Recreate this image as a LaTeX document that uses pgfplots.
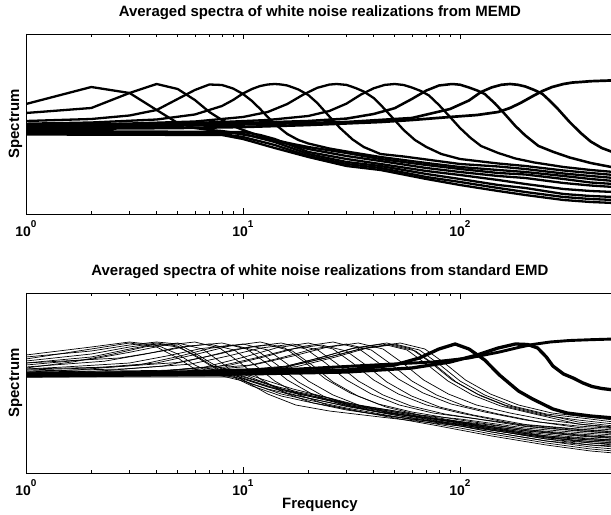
\documentclass[border=0pt]{standalone}
\usepackage{pgfplots}
\pgfplotsset{compat=1.18}
\usepackage{fontspec}
\setmainfont{Liberation Sans}
\newcommand{\sups}[1]{\raisebox{9.5bp}{\fontsize{10}{10}\selectfont #1}}
\pgfplotsset{
  panel/.style={
    scale only axis, width=587.9bp, height=180bp,
    xmin=1, xmax=512, ymin=0, ymax=180,
    ytick=\empty, xtick={1,10,100},
    xticklabels={10\sups{0},10\sups{1},10\sups{2}},
    axis line style={line width=0.9bp},
    major tick length=5.5bp, minor tick length=3bp,
    tick style={black, line width=0.7bp},
    xticklabel style={font=\bfseries\fontsize{14}{14}\selectfont, anchor=base, yshift=-22.7bp},
    title style={font=\bfseries\fontsize{15}{15}\selectfont, at={(0.5,1)}, anchor=base, yshift=11.5bp},
    ylabel={Spectrum},
    every axis y label/.style={at={(axis description cs:-0.0119,0.5)}, rotate=90, anchor=base, font=\bfseries\fontsize{15}{15}\selectfont},
  },
  thk/.style={black, line width=2.3bp, line join=round},
  bthk/.style={black, line width=3.3bp, line join=round},
  thn/.style={black, line width=0.7bp, line join=round},
}
\begin{document}
\begin{tikzpicture}
\useasboundingbox (0bp,0bp) rectangle (611bp,515bp);
% ---------------- top panel: MEMD ----------------
\begin{semilogxaxis}[panel, at={(26bp,301bp)}, anchor=south west,
  title={Averaged spectra of white noise realizations from MEMD}]
% IMF1 (high-pass)
\addplot[thk, line width=2.7bp] coordinates {(1,85)(5,86)(10,87)(20,89)(43,92)(60,94)(90,97)(120,99)(150,102)(170,106)(190,111)(217,118)(240,123)(266,127)(300,130)(331,131.5)(360,132)(400,132.8)(450,133.2)(512,133.6)};
% band-pass IMFs
\addplot[thk, line width=2.6bp] coordinates {(1,86)(10,89.5)(30,92)(60,96)(90,105)(110,113.5)(125,122)(140,126.6)(155,129.2)(170,130)(185,129.2)(200,127.5)(220,124)(240,120)(260,113)(280,106)(320,92)(360,81)(400,72.5)(450,66)(512,61.5)};
\addplot[thk, line width=2.5bp] coordinates {(1,87)(5,89.5)(10,91)(20,93)(30,95.4)(40,100)(50,105.8)(60,115)(70,123.5)(80,128.5)(92,130)(100,129.3)(110,126.5)(120,123.5)(130,120)(145,110.5)(160,100.5)(180,88)(200,78.5)(230,68)(270,62)(320,56.5)(400,51)(512,46.5)};
\addplot[thk] coordinates {(1,88)(4,90)(8,92)(13,94)(20,98)(25,103)(30,110.4)(35,119.5)(40,125.7)(45,129.1)(50,130)(55,129)(60,126.5)(66,123)(72,118.5)(80,109)(90,97)(100,86)(112,76)(125,68)(150,61)(180,55.5)(220,51.5)(300,47)(400,44)(512,42)};
\addplot[thk] coordinates {(1,89)(3,90.5)(6,92.5)(10,97)(13,102)(16,110)(19,119.5)(22,126.2)(25,129.4)(27,130)(30,129.1)(33,126)(36,122.5)(40,116)(44,107)(49,96)(55,84)(62,74)(70,67)(82,60)(100,55)(150,50.5)(200,48)(300,43.5)(400,41)(512,39)};
\addplot[thk] coordinates {(1,90.3)(2,91.5)(4,94.5)(6,99.5)(8,108)(9,114)(10,120.5)(11,125)(12,128)(13,129.5)(14,130)(15,129.5)(16,128.5)(17,126.5)(18,124.5)(20,119)(22,111)(25,97.5)(28,86)(32,74.5)(36,67)(43,60)(55,57.5)(70,54.5)(100,50)(150,47.5)(200,45)(300,40.5)(400,38)(512,36)};
\addplot[thk] coordinates {(1,93)(2,95)(3,98.5)(4,104)(5,115)(6,124)(7,129.5)(8,129)(9,125.5)(10,120)(11,113)(12,105)(13,97)(14,90)(16,80)(18,74)(20,70.5)(25,65.5)(30,62.5)(43,57)(70,51)(100,47)(150,44)(200,42)(300,38)(400,35)(512,33)};
\addplot[thk] coordinates {(1,101)(2,106)(3,121)(4,130)(5,125)(6,114)(7,102)(8,94)(9,88)(10,84)(12,78)(14,74)(17,70)(20,67)(30,61)(43,55)(70,49)(100,45)(150,41)(200,39.5)(300,35)(400,31.5)(512,30)};
\addplot[thk] coordinates {(1,110)(2,127)(3,121)(4,104)(5,91)(6,86)(7,84)(8,83)(10,80)(12,76)(14,73)(17,69)(20,65)(30,58)(43,53)(70,46)(100,42)(150,38)(200,36)(300,31)(400,28.5)(512,27)};
% residual-type lines
\addplot[thk] coordinates {(1,83)(10,82)(12,79)(14,75)(20,62)(30,55)(43,50)(70,43)(100,39)(150,34)(200,30)(300,25)(400,23)(512,22)};
\addplot[thk] coordinates {(1,81.5)(9,81)(11,78)(14,72)(20,60)(30,52)(43,48)(70,40)(100,35)(150,29)(200,26)(300,20)(400,18)(512,17)};
\addplot[thk] coordinates {(1,80.5)(8,80)(10,77)(14,69)(20,58)(30,50)(43,46)(70,37)(100,32)(150,26)(200,22)(300,17)(400,15)(512,14)};
\addplot[thk] coordinates {(1,79.5)(8,79)(10,75)(14,66)(20,57)(30,48)(43,44)(70,35)(100,29)(150,23)(200,19)(300,14)(400,12)(512,11)};
\end{semilogxaxis}
% ---------------- bottom panel: standard EMD ----------------
\begin{semilogxaxis}[panel, at={(26bp,42bp)}, anchor=south west,
  title={Averaged spectra of white noise realizations from standard EMD},
  xlabel={Frequency},
  every axis x label/.style={at={(axis description cs:0.5,0)}, anchor=base, yshift=-35.5bp, font=\bfseries\fontsize{15}{15}\selectfont}]
\addplot[bthk, line width=2.9bp] coordinates {(1,98)(5,101)(10,103)(18,104)(40,108)(75,111)(110,115)(152,121)(190,126)(216,128.5)(260,131)(320,132.5)(400,133.3)(512,134)};
\addplot[bthk] coordinates {(1,97)(10,99)(30,101)(60,105)(90,111)(120,118)(150,125)(180,129)(205,128.5)(228,125)(250,116)(268,107)(300,99)(332,95)(369,90)(406,86.5)(450,84.5)(512,83)};
\addplot[bthk] coordinates {(1,99)(10,100)(30,103)(50,108)(65,115)(80,124)(95,129)(110,124)(130,113)(152,98)(186,82)(216,74)(268,64)(311,60)(400,57)(512,55)};
% IMF4 family
\addplot[thn] coordinates {(1,97)(7.3,99)(14.7,105)(22,114.6)(31.4,124.2)(44,129)(57,123)(70,109)(88,92)(114,78)(154,67)(220,59)(350,49)(512,45)};
\addplot[thn] coordinates {(1,98)(7.7,100)(15.3,106)(23,115.6)(32.9,125.2)(46,130)(59.8,124)(73.6,110)(92,93)(120,79)(161,68)(230,60)(350,51)(512,47)};
\addplot[thn] coordinates {(1,99)(8,101)(16,106.3)(24,115)(34.3,123.7)(48,128)(62.4,122)(76.8,108)(96,91)(125,77)(168,66)(240,58)(350,53)(512,49)};
\addplot[thn] coordinates {(1,100)(8.3,102)(16.7,107.3)(25,116)(35.7,124.7)(50,129)(65,123)(80,109)(100,92)(130,78)(175,67)(250,59)(380,54.5)(512,51)};
\addplot[thn] coordinates {(1,98.5)(8.8,100.5)(17.7,106.4)(26.5,115.8)(37.9,125.3)(53,130)(68.9,124)(84.8,110)(106,93)(138,79)(186,68)(265,60)(400,55.5)(512,53)};
% IMF5 family
\addplot[thn] coordinates {(1,98)(3.3,100)(6.7,106)(10,115.6)(14.3,125.2)(20,130)(26,124)(32,110)(40,93)(52,79)(70,68)(100,60)(200,47)(350,42.5)(512,40)};
\addplot[thn] coordinates {(1,99.5)(3.8,101.5)(7.7,106.6)(11.5,115.2)(16.4,123.7)(23,128)(29.9,122)(36.8,108)(46,91)(59.8,77)(80.5,66)(115,58)(200,48.5)(350,44)(512,41.5)};
\addplot[thn] coordinates {(1,100)(4.3,102)(8.7,107.8)(13,117)(18.6,126.4)(26,131)(33.8,125)(41.6,111)(52,94)(67.6,80)(91,69)(130,61)(200,53)(350,45.5)(512,43)};
\addplot[thn] coordinates {(1,98.5)(5,100.5)(10,106.1)(15,115.3)(21.4,124.4)(30,129)(39,123)(48,109)(60,92)(78,78)(105,67)(150,59)(230,51)(350,47)(512,44.5)};
\addplot[thn] coordinates {(1,101)(5.7,103)(11.3,108.3)(17,117)(24.3,125.7)(34,130)(44.2,124)(54.4,110)(68,93)(88.4,79)(119,68)(170,60)(250,53)(370,48.5)(512,46)};
% IMF6 family
\addplot[thn] coordinates {(1,101)(1.7,103)(3.3,108)(5,116.4)(7.1,124.8)(10,129)(13,123)(16,109)(20,92)(26,78)(35,67)(50,59)(100,51)(200,42)(350,37.5)(512,35)};
\addplot[thn] coordinates {(1,103)(2,105)(4,110)(6,118.4)(8.6,126.8)(12,131)(15.6,125)(19.2,111)(24,94)(31.2,80)(42,69)(60,61)(100,53)(200,43.5)(350,39)(512,36.5)};
\addplot[thn] coordinates {(1,100)(2.2,102)(4.3,107)(6.5,115.4)(9.3,123.8)(13,128)(16.9,122)(20.8,108)(26,91)(33.8,77)(45.5,66)(65,58)(100,54)(200,45)(350,40.5)(512,38)};
\addplot[thn] coordinates {(1,104)(2.5,106)(5,110.5)(7.5,118.3)(10.7,126.1)(15,130)(19.5,124)(24,110)(30,93)(39,79)(52.5,68)(75,60)(120,54)(200,46.5)(350,42)(512,39.5)};
\addplot[thn] coordinates {(1,102)(2.8,104)(5.7,108.8)(8.5,116.9)(12.1,125)(17,129)(22.1,123)(27.2,109)(34,92)(44.2,78)(59.5,67)(85,59)(130,53)(200,48)(350,43.5)(512,41)};
% IMF7 family
\addplot[thn] coordinates {(1,105)(1.67,111.3)(2.5,118.8)(3.57,126.3)(5,130)(6.5,124)(8,110)(10,93)(13,79)(17.5,68)(25,62)(47,55)(100,47)(200,38)(350,32.5)(512,30)};
\addplot[thn] coordinates {(1,108)(2,113.8)(3,120.7)(4.3,127.6)(6,131)(7.8,125)(9.6,111)(12,94)(15.6,80)(21,70)(30,63)(50,56)(100,48)(200,39.5)(350,34)(512,31.5)};
\addplot[thn] coordinates {(1,106)(2.3,111.8)(3.5,118.7)(5,125.6)(7,129)(9.1,123)(11.2,109)(14,92)(18.2,78)(24.5,68)(35,61)(60,54)(100,49)(200,41)(350,35.5)(512,33)};
\addplot[thn] coordinates {(1,110)(2.7,115)(4,121)(5.7,127)(8,130)(10.4,124)(12.8,110)(16,93)(20.8,79)(28,69)(40,62)(70,55)(120,48)(200,42.5)(350,37)(512,34.5)};
\addplot[thn] coordinates {(1,104)(1.5,106)(3,110)(4.5,117.2)(6.4,124.4)(9,128)(11.7,122)(14.4,108)(18,91)(23.4,77)(31.5,67)(45,60)(80,54)(150,47)(250,41)(400,37)(512,36)};
% IMF8 family
\addplot[thn] coordinates {(1,114)(2,124)(3,130)(4,126)(5,115)(6,104)(7,99)(8,97)(10,92)(13,84)(17,78)(22,73)(30,67)(47,59)(80,51)(140,41)(250,32)(400,28)(512,27)};
\addplot[thn] coordinates {(1,118)(2,126)(3,131)(4,128)(5,119)(6,108)(7,101)(8,98)(10,94)(13,86)(17,80)(22,75)(30,69)(47,61)(80,52)(140,43)(250,34)(400,30)(512,29)};
\addplot[thn] coordinates {(1,112)(2,119)(3,126)(4,130)(5,127)(6,117)(7,108)(8,101)(9,98)(11,92)(14,85)(18,80)(25,73)(35,66)(47,62)(80,53)(140,44)(250,35)(400,31.5)(512,30.5)};
\addplot[thn] coordinates {(1,116)(2,122)(3,128)(4,131)(5,129)(6,120)(7,111)(8,104)(9,100)(11,94)(14,87)(18,81)(25,75)(35,67)(47,63)(80,54)(140,45)(250,36)(400,33)(512,32)};
\addplot[thn] coordinates {(1,110)(2,116)(3,124)(4,129)(5,126)(6,118)(7,109)(8,102)(9,99)(12,91)(15,84)(20,78)(30,70)(47,63)(80,55)(140,46)(250,37)(400,34)(512,33)};
% residual-type lines
\addplot[thn] coordinates {(1,96)(9,96)(11,87)(15,77)(20,71)(30,64)(47,56)(80,47)(100,43)(140,37)(250,28)(400,22)(512,20)};
\addplot[thn] coordinates {(1,97)(9,97)(11,89)(15,79)(20,73)(30,65)(47,57.5)(80,48.5)(100,45)(140,39)(250,30)(400,24)(512,22)};
\addplot[thn] coordinates {(1,98)(9,98)(12,89)(16,80)(20,75)(30,66.5)(47,59)(80,50)(100,47)(140,41)(250,32)(400,26)(512,24)};
\addplot[thn] coordinates {(1,99)(10,99)(12,92)(16,82)(20,77)(30,68)(47,60.5)(80,51.5)(100,48.5)(140,43)(250,34)(400,28)(512,26)};
\addplot[thn] coordinates {(1,100)(10,100)(13,92)(17,84)(22,78)(30,70)(47,62)(80,53)(100,50)(140,45)(250,36)(400,30)(512,28)};
\end{semilogxaxis}
\end{tikzpicture}
\end{document}
